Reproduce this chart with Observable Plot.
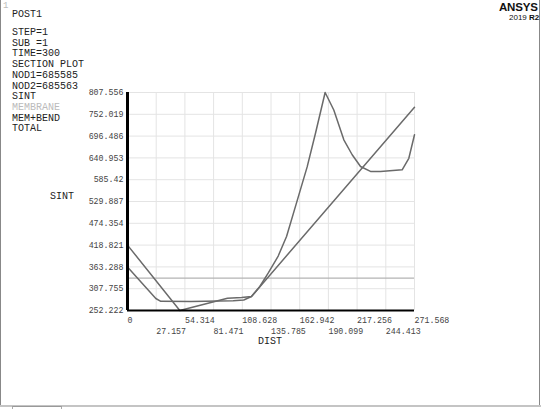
<!DOCTYPE html>
<html>
<head>
<meta charset="utf-8">
<script src="https://cdn.jsdelivr.net/npm/d3@7"></script>
<script src="https://cdn.jsdelivr.net/npm/@observablehq/plot@0.6"></script>
<style>
  html, body { margin: 0; padding: 0; background: #fff; }
  #wrap { position: relative; width: 541px; height: 409px; overflow: hidden; font-family: "Liberation Mono", "DejaVu Sans Mono", monospace; }
  #wrap svg { position: absolute; left: 0; top: 0; }
  .t { position: absolute; white-space: pre; color: #222; font-size: 10px; line-height: 10px; }
</style>
</head>
<body>
<div id="wrap"></div>
<script>
// ---- data ----
const xTicks = [0, 27.157, 54.314, 81.471, 108.628, 135.785, 162.942, 190.099, 217.256, 244.413, 271.568];
const yTicks = [252.222, 307.755, 363.288, 418.821, 474.354, 529.887, 585.42, 640.953, 696.486, 752.019, 807.556];

const membraneValue = 334.5;

const totalDist = [0, 49.5, 94.6, 108, 117.3, 125.2, 133.1, 142.6, 150.5, 160, 170, 178, 187, 195.2, 204.7, 212.6, 220.5, 229.9, 239.4, 259.9, 266.2, 271.568];
const totalVal  = [418.821, 252.222, 283.6, 285.5, 287.9, 313.4, 347.2, 391, 440.7, 527, 618, 705, 807.556, 763, 687, 649, 619, 606.5, 606, 610.6, 640, 700];

const memBendDist = [0, 26.8, 31.5, 60, 100, 110, 117.3, 271.568];
const memBendVal  = [363.288, 282.8, 275.5, 275.3, 277, 279, 287.9, 770];

const infoLines = ["STEP=1", "SUB =1", "TIME=300", "SECTION PLOT", "NOD1=685585", "NOD2=685563", "SINT"];

// ---- build ----
const total = totalDist.map((d, i) => ({x: d, y: totalVal[i]}));
const memBend = memBendDist.map((d, i) => ({x: d, y: memBendVal[i]}));
const evenX = xTicks.filter((d, i) => i % 2 === 0);
const oddX = xTicks.filter((d, i) => i % 2 === 1);

const chart = Plot.plot({
  width: 541,
  height: 409,
  marginLeft: 127,
  marginRight: 127,
  marginTop: 92,
  marginBottom: 99,
  style: {fontFamily: "Liberation Mono, DejaVu Sans Mono, monospace", fontSize: "8.3px", background: "transparent", color: "#333"},
  x: {domain: [0, 271.568]},
  y: {domain: [252.222, 807.556]},
  marks: [
    Plot.gridX(xTicks, {stroke: "#e4e4e4", strokeOpacity: 1}),
    Plot.gridY(yTicks, {stroke: "#e4e4e4", strokeOpacity: 1}),
    Plot.ruleY([membraneValue], {stroke: "#b3b3b3", strokeWidth: 1.3}),
    Plot.line(memBend, {x: "x", y: "y", stroke: "#6a6a6a", strokeWidth: 1.5}),
    Plot.line(total, {x: "x", y: "y", stroke: "#6a6a6a", strokeWidth: 1.5}),
    Plot.ruleX([0], {stroke: "#000", strokeWidth: 3}),
    Plot.ruleY([252.222], {stroke: "#000", strokeWidth: 2}),
    Plot.axisY(yTicks, {tickSize: 0, tickPadding: 4, tickFormat: d => String(d), label: null, fill: "#444"}),
    Plot.axisX(evenX, {tickSize: 0, tickPadding: 7, textAnchor: "start", tickFormat: d => String(d), label: null, fill: "#444"}),
    Plot.axisX(oddX, {tickSize: 0, tickPadding: 17.5, textAnchor: "start", tickFormat: d => String(d), label: null, fill: "#444"})
  ]
});

const wrap = document.getElementById("wrap");
wrap.appendChild(chart);

function addText(txt, x, y, extra) {
  const el = document.createElement("div");
  el.className = "t";
  el.textContent = txt;
  el.style.left = x + "px";
  el.style.top = y + "px";
  if (extra) Object.assign(el.style, extra);
  wrap.appendChild(el);
  return el;
}

// frame decorations
function addBox(styles) {
  const el = document.createElement("div");
  el.style.position = "absolute";
  Object.assign(el.style, styles);
  wrap.appendChild(el);
}
addBox({left: "0px", top: "0px", width: "1px", height: "406px", background: "#888"});
addBox({left: "539px", top: "0px", width: "1px", height: "406px", background: "#888"});
addBox({left: "0px", top: "405px", width: "541px", height: "2px", background: "#c4c4c4"});
addBox({left: "12px", top: "406px", width: "50px", height: "3px", borderLeft: "1px solid #aaa", borderRight: "1px solid #aaa", borderTop: "1px solid #999", boxSizing: "border-box"});

addText("1", 3, 1, {color: "#bbb", fontSize: "9px"});
addText("POST1", 12, 10);
infoLines.forEach((s, i) => addText(s, 12, 28 + i * 10.7));
addText("MEMBRANE", 12, 28 + 7 * 10.7, {color: "#bbb"});
addText("MEM+BEND", 12, 28 + 8 * 10.7);
addText("TOTAL", 12, 28 + 9 * 10.7);

addText("SINT", 50, 192);
addText("DIST", 258, 337);

addText("ANSYS", 499, 1, {fontFamily: "Liberation Sans, Arial, sans-serif", fontWeight: "bold", fontSize: "11.5px", lineHeight: "12px", color: "#111", letterSpacing: "-0.2px"});
const r = addText("2019 ", 509, 13, {fontFamily: "Liberation Sans, Arial, sans-serif", fontSize: "8px", lineHeight: "9px", color: "#111"});
const b = document.createElement("b");
b.textContent = "R2";
r.appendChild(b);
</script>
</body>
</html>
